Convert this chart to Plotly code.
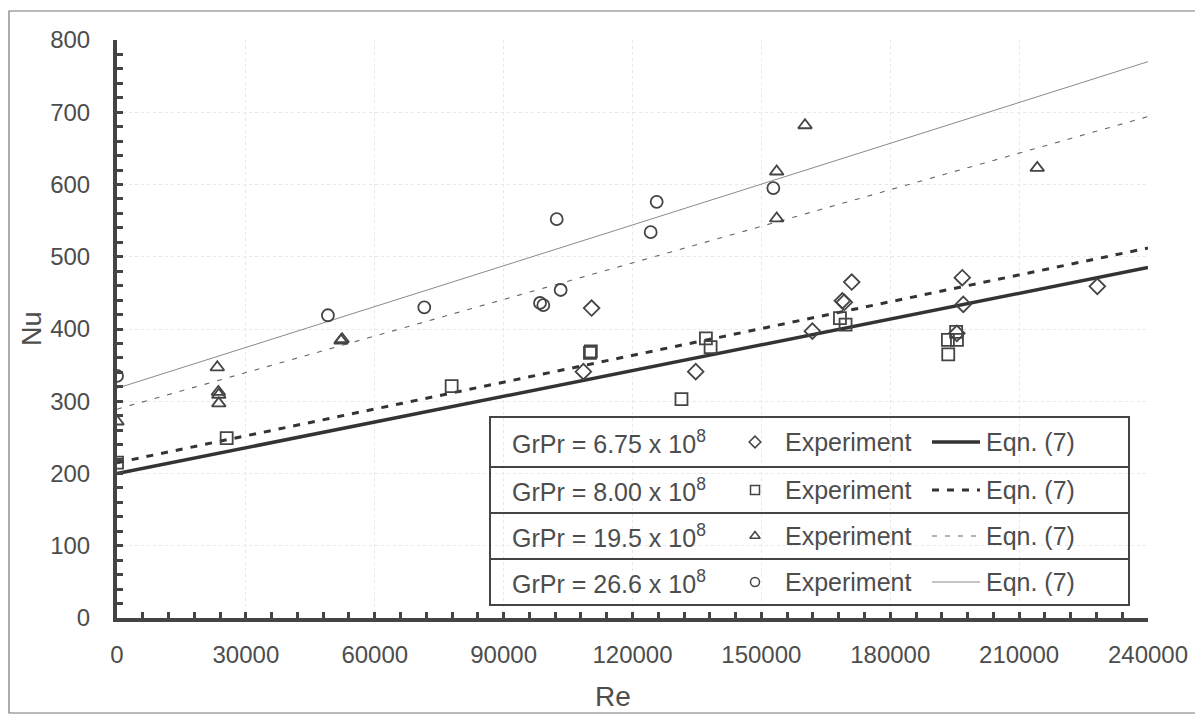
import plotly.graph_objects as go

# ---------------- data ----------------
re_675 = [108570, 110480, 134720, 161870, 168850, 169300, 171030, 195500, 196770, 197000, 228200]
nu_675 = [341, 429, 341, 397, 439, 437, 465, 394, 471, 434, 459]

re_800 = [0, 25530, 77900, 110100, 110300, 131400, 137090, 138180, 168290, 169600,
          193420, 193500, 195340, 195530]
nu_800 = [215, 249, 321, 367, 369, 303, 387, 375, 415, 406, 385, 365, 396, 385]

re_195 = [0, 23350, 23600, 23700, 23700, 52140, 52400, 153560, 153560, 160160, 214220]
nu_195 = [272, 347, 313, 309, 297, 384, 386, 618, 553, 682, 623]

re_266 = [0, 49100, 71530, 98470, 99240, 102360, 103280, 124230, 125630, 152780]
nu_266 = [335, 419, 430, 436, 433, 552, 454, 534, 576, 595]

eqn_re = [0, 240000]
eqn_675 = [200, 485]
eqn_800 = [215, 512]
eqn_195 = [289, 694]
eqn_266 = [318, 770]

grpr_labels = ["6.75", "8.00", "19.5", "26.6"]

# ---------------- layout geometry (screen pixels) ----------------
W, H = 1203, 715
OFF = 8  # default page body margin
L, R, T, B = 117, 1148, 40, 618
INK = "#444444"
TXT = "#4d4d4d"
FONT = "Liberation Sans, Arial, sans-serif"


def px(x):
    return (x - L) / (R - L)


def py(y):
    return (B - y) / (B - T)


fig = go.Figure()

series = [
    (re_675, nu_675, "diamond-open", eqn_675, dict(color="#333333", width=3.5)),
    (re_800, nu_800, "square-open", eqn_800, dict(color="#333333", width=3, dash="7px,8px")),
    (re_195, nu_195, "triangle-up-open", eqn_195, dict(color="#666666", width=1.1, dash="5px,8px")),
    (re_266, nu_266, "circle-open", eqn_266, dict(color="#8a8a8a", width=1)),
]

for xs, ys, sym, eq, lst in series:
    fig.add_trace(go.Scatter(x=eqn_re, y=eq, mode="lines", line=lst,
                             showlegend=False, hoverinfo="skip"))
for xs, ys, sym, eq, lst in series:
    fig.add_trace(go.Scatter(x=xs, y=ys, mode="markers",
                             marker=dict(symbol=sym, size=12, color=INK,
                                         line=dict(color=INK, width=1.8)),
                             showlegend=False))

# ---------------- custom table legend (overlay pixel axes) ----------------
box_l, box_r = 490, 1129
rows_y = [417, 467, 513, 559, 605]
for i, lab in enumerate(grpr_labels):
    yc = (rows_y[i] + rows_y[i + 1]) / 2
    sym = series[i][2]
    fig.add_trace(go.Scatter(x=[755], y=[yc], mode="markers", xaxis="x2", yaxis="y2",
                             marker=dict(symbol=sym, size=9, color=INK,
                                         line=dict(color=INK, width=1.5)),
                             showlegend=False, hoverinfo="skip"))
    fig.add_trace(go.Scatter(x=[932, 980], y=[yc, yc], mode="lines", xaxis="x2", yaxis="y2",
                             line=series[i][4], showlegend=False, hoverinfo="skip"))
    fig.add_annotation(x=510, y=yc, xref="x2", yref="y2", xanchor="left", yanchor="middle",
                       text=f"GrPr = {lab} x 10<sup>8</sup>", showarrow=False,
                       font=dict(family=FONT, size=25, color=TXT))
    fig.add_annotation(x=783, y=yc, xref="x2", yref="y2", xanchor="left", yanchor="middle",
                       text="Experiment", showarrow=False,
                       font=dict(family=FONT, size=25, color=TXT))
    fig.add_annotation(x=984, y=yc, xref="x2", yref="y2", xanchor="left", yanchor="middle",
                       text="Eqn. (7)", showarrow=False,
                       font=dict(family=FONT, size=25, color=TXT))

fig.add_shape(type="rect", xref="x2", yref="y2", x0=box_l, x1=box_r, y0=rows_y[0], y1=rows_y[-1],
              line=dict(color=INK, width=2))
for yy in rows_y[1:-1]:
    fig.add_shape(type="line", xref="x2", yref="y2", x0=box_l, x1=box_r, y0=yy, y1=yy,
                  line=dict(color=INK, width=2))

# figure border
fig.add_shape(type="rect", xref="paper", yref="paper",
              x0=px(9), x1=px(1200), y0=py(713), y1=py(11),
              line=dict(color="#777777", width=1.2))

# axis titles
fig.add_annotation(x=px(613), y=py(696), xref="paper", yref="paper", text="Re",
                   xanchor="center", yanchor="middle",
                   showarrow=False, font=dict(family=FONT, size=28, color=TXT))
fig.add_annotation(x=px(32), y=py(329), xref="paper", yref="paper", text="Nu", textangle=-90,
                   xanchor="center", yanchor="middle",
                   showarrow=False, font=dict(family=FONT, size=27, color=TXT))

fig.update_layout(
    width=W, height=H,
    margin=dict(l=L - OFF, r=W - (R - OFF), t=T - OFF, b=H - (B - OFF)),
    paper_bgcolor="white", plot_bgcolor="white",
    showlegend=False,
    xaxis=dict(range=[0, 240000], dtick=30000, tick0=0, showline=True, linecolor=INK, linewidth=4,
               ticks="inside", ticklen=6, tickwidth=3, tickcolor=INK,
               minor=dict(dtick=6000, ticks="inside", ticklen=6, tickwidth=3, tickcolor=INK),
               showgrid=True, gridcolor="#e8e8e8", griddash="dot", gridwidth=1,
               zeroline=False, tickformat="d", ticklabelstandoff=12,
               tickfont=dict(family=FONT, size=24, color=TXT)),
    yaxis=dict(range=[0, 800], dtick=100, tick0=0, showline=True, linecolor=INK, linewidth=4,
               ticks="inside", ticklen=6, tickwidth=3, tickcolor=INK,
               minor=dict(dtick=20, ticks="inside", ticklen=6, tickwidth=3, tickcolor=INK),
               showgrid=True, gridcolor="#e8e8e8", griddash="dot", gridwidth=1,
               zeroline=False, ticklabelstandoff=18,
               tickfont=dict(family=FONT, size=24, color=TXT)),
    xaxis2=dict(range=[L, R], overlaying="x", visible=False, fixedrange=True),
    yaxis2=dict(range=[B, T], overlaying="y", visible=False, fixedrange=True),
)

fig.write_html("out.html")
